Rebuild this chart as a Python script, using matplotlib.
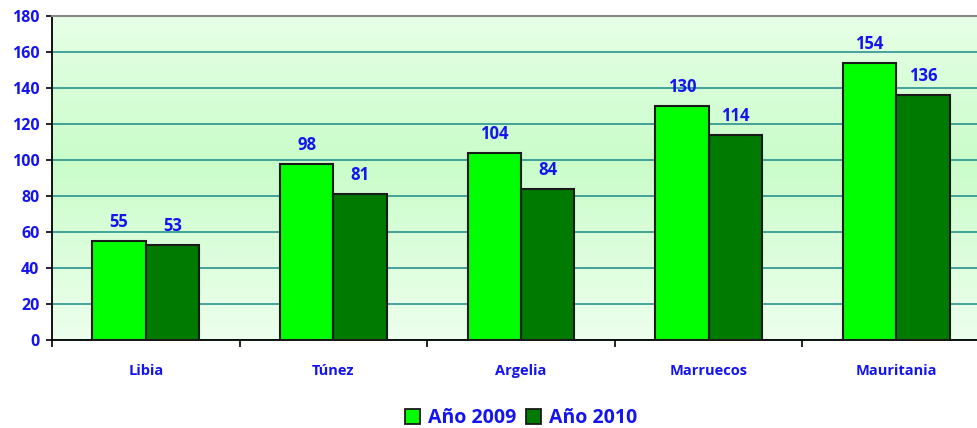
import matplotlib.pyplot as plt
import numpy as np
from matplotlib.patches import Patch

paises = ["Libia", "Túnez", "Argelia", "Marruecos", "Mauritania"]
valores_2009 = [55, 98, 104, 130, 154]
valores_2010 = [53, 81, 84, 114, 136]
etiquetas = ["Año 2009", "Año 2010"]

azul = "#1414f0"
verde_claro = "#00ff00"
verde_oscuro = "#007a00"

plt.rcParams['font.family'] = ['Open Sans', 'DejaVu Sans']

fig = plt.figure(figsize=(9.77, 4.28), dpi=100)
ax = fig.add_axes([52 / 977, 88 / 428, 938 / 977, 324 / 428])

# fondo degradado (claro arriba y abajo, mas verde en medio)
t = np.linspace(0, 1, 256)
claro = np.array([0.93, 1.0, 0.93])
medio = np.array([0.79, 0.99, 0.79])
mezcla = 1 - np.abs(t - 0.55) / 0.55
mezcla = np.clip(mezcla, 0, 1)
grad = claro[None, :] * (1 - mezcla[:, None]) + medio[None, :] * mezcla[:, None]
ax.imshow(grad[:, None, :], extent=[0, 5, 0, 180], aspect='auto', origin='lower', zorder=0)

x = np.arange(len(paises)) + 0.5
ancho = 0.285
b1 = ax.bar(x - ancho / 2, valores_2009, ancho, color=verde_claro, edgecolor="#1a1a1a", linewidth=1.5, zorder=3)
b2 = ax.bar(x + ancho / 2, valores_2010, ancho, color=verde_oscuro, edgecolor="#1a1a1a", linewidth=1.5, zorder=3)

for barras, vals in [(b1, valores_2009), (b2, valores_2010)]:
    for b, v in zip(barras, vals):
        ax.text(b.get_x() + b.get_width() / 2, v + 5.5, str(v), ha='center', va='bottom',
                color=azul, fontsize=12, fontweight='bold', zorder=4)

ax.set_xlim(0, 5)
ax.set_ylim(0, 180)
ax.set_yticks(range(0, 181, 20))
ax.set_xticks(range(0, 6))
ax.set_xticklabels([])
ax.set_xticks(x, minor=True)
ax.set_xticklabels(paises, minor=True)
ax.tick_params(axis='x', which='minor', length=0, pad=17, labelsize=10.5, labelcolor=azul)
ax.tick_params(axis='x', which='major', length=5, width=1.2, direction='out')
ax.tick_params(axis='y', length=4, width=1.2, labelsize=11.5, labelcolor=azul, pad=5)
for lab in ax.get_xticklabels(minor=True) + ax.get_yticklabels():
    lab.set_fontweight('bold')

ax.grid(axis='y', color="#1a8a8a", linewidth=1.1, zorder=1)
ax.set_axisbelow(True)
ax.spines['top'].set_color("#888888")
ax.spines['top'].set_linewidth(1.5)
ax.spines['right'].set_visible(False)
ax.spines['left'].set_linewidth(1.3)
ax.spines['bottom'].set_linewidth(1.3)

handles = [Patch(facecolor=verde_claro, edgecolor="#1a1a1a", linewidth=1.3),
           Patch(facecolor=verde_oscuro, edgecolor="#1a1a1a", linewidth=1.3)]
leg = fig.legend(handles, etiquetas, loc='center', bbox_to_anchor=(521 / 977, 1 - 418 / 428),
                 ncol=2, frameon=False, handlelength=0.8, handleheight=0.8,
                 handletextpad=0.4, columnspacing=0.5,
                 prop={'size': 14, 'weight': 'bold'})
for txt in leg.get_texts():
    txt.set_color(azul)

fig.savefig("out.png", dpi=100)
